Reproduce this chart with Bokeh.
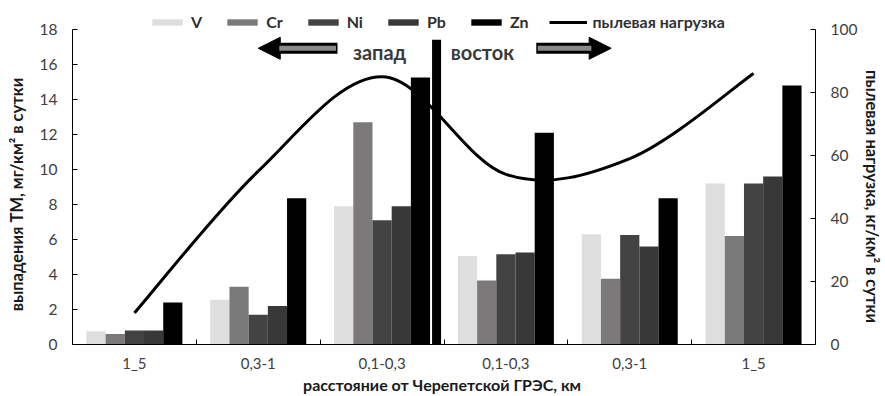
from bokeh.plotting import figure
from bokeh.models import (Range1d, LinearAxis, FixedTicker, Legend, LegendItem,
                          ColumnDataSource, Label, Arrow, NormalHead)
from bokeh.embed import file_html
from bokeh.resources import INLINE

# ---------------- data ----------------
categories = ["1_5", "0,3-1", "0,1-0,3", "0,1-0,3", "0,3-1", "1_5"]
series_names = ["V", "Cr", "Ni", "Pb", "Zn"]
V = [0.75, 2.55, 7.9, 5.05, 6.3, 9.2]
Cr = [0.6, 3.3, 12.7, 3.65, 3.75, 6.2]
Ni = [0.8, 1.7, 7.1, 5.15, 6.25, 9.2]
Pb = [0.8, 2.2, 7.9, 5.25, 5.6, 9.6]
Zn = [2.4, 8.35, 15.25, 12.1, 8.35, 14.8]
dust = [10, 55, 85, 54, 59, 86]
left_ticks = [0, 2, 4, 6, 8, 10, 12, 14, 16, 18]
right_ticks = [0, 20, 40, 60, 80, 100]

colors = ["#dedede", "#7b7979", "#434343", "#383838", "#000000"]
FONT = "Lato"
NB = "\u00a0"

# axes end at 18 / 100; the frame reaches a bit higher to hold the legend
LMAX, RMAX = 18, 100
headroom = 1.42 / 18.0
p = figure(width=885, height=396, output_backend="svg", toolbar_location=None,
           x_range=Range1d(0, 6), y_range=Range1d(0, LMAX * (1 + headroom)),
           min_border_left=72, min_border_right=68, min_border_top=4, min_border_bottom=50)
p.extra_y_ranges = {"right": Range1d(0, RMAX * (1 + headroom))}
p.outline_line_color = None
p.xgrid.visible = False
p.ygrid.visible = False

# ---------------- bars ----------------
n = len(categories)
centers = [i + 0.5 for i in range(n)]
bw = 0.155
legend_items = []
for k, (name, vals) in enumerate(zip(series_names, [V, Cr, Ni, Pb, Zn])):
    xs = [c + (k - 2) * bw for c in centers]
    src = ColumnDataSource(dict(x=xs, top=vals))
    r = p.vbar(x="x", top="top", width=bw, source=src, fill_color=colors[k],
               line_color=None)
    legend_items.append(LegendItem(label=name, renderers=[r]))

# ---------------- smoothed dust line (Bezier segments through data points) ----
xs = centers
ys = dust
x0, y0, x1, y1, cx0, cy0, cx1, cy1 = [], [], [], [], [], [], [], []
for i in range(n - 1):
    xm1, ym1 = (xs[i - 1], ys[i - 1]) if i > 0 else (xs[i], ys[i])
    xp2, yp2 = (xs[i + 2], ys[i + 2]) if i + 2 < n else (xs[i + 1], ys[i + 1])
    x0.append(xs[i]); y0.append(ys[i])
    x1.append(xs[i + 1]); y1.append(ys[i + 1])
    cx0.append(xs[i] + (xs[i + 1] - xm1) / 6.0)
    cy0.append(ys[i] + (ys[i + 1] - ym1) / 6.0)
    cx1.append(xs[i + 1] - (xp2 - xs[i]) / 6.0)
    cy1.append(ys[i + 1] - (yp2 - ys[i]) / 6.0)
bsrc = ColumnDataSource(dict(x0=x0, y0=y0, x1=x1, y1=y1, cx0=cx0, cy0=cy0, cx1=cx1, cy1=cy1))
lr = p.bezier(x0="x0", y0="y0", x1="x1", y1="y1", cx0="cx0", cy0="cy0", cx1="cx1", cy1="cy1",
              source=bsrc, line_color="black", line_width=3, y_range_name="right")
legend_items.append(LegendItem(label="пылевая нагрузка", renderers=[lr]))

# ---------------- divider west / east ----------------
p.segment(x0=[2.94], y0=[0], x1=[2.94], y1=[17.4], line_color="black", line_width=9)

# arrows
for tail, tip, inner_end in [(2.14, 1.50, 1.67), (3.745, 4.35, 4.19)]:
    p.add_layout(Arrow(x_start=tail, y_start=16.92, x_end=tip, y_end=16.92,
                       line_color="black", line_width=11,
                       end=NormalHead(size=22, fill_color="black", line_color="black")))
    p.add_layout(Arrow(x_start=tail + (0.012 if tip > tail else -0.012), y_start=16.92,
                       x_end=inner_end, y_end=16.92,
                       line_color="#8a8a8a", line_width=5, end=None))

for txt, xx in [("запад", 2.48), ("восток", 3.31)]:
    p.add_layout(Label(x=xx, y=16.7, text=txt, text_align="center", text_baseline="middle",
                       text_font=FONT, text_font_size="20px", text_font_style="bold",
                       text_color="#3a3a3a"))

# ---------------- axes ----------------
yax = p.yaxis[0]
yax.ticker = FixedTicker(ticks=left_ticks)
yax.bounds = (0, LMAX)
yax.axis_label = "выпадения ТМ,  мг/км² в сутки" + NB * 9
ryax = LinearAxis(y_range_name="right", ticker=FixedTicker(ticks=right_ticks),
                  bounds=(0, RMAX), axis_label=NB * 12 + "пылевая нагрузка,  кг/км² в сутки")
p.add_layout(ryax, "right")

xax = p.xaxis[0]
xax.ticker = FixedTicker(ticks=centers, minor_ticks=[1, 2, 3, 4, 5])
xax.major_label_overrides = {c: lab for c, lab in zip(centers, categories)}
xax.axis_label = "расстояние  от Черепетской ГРЭС, км"
xax.major_tick_line_color = None
xax.minor_tick_in = 5
xax.minor_tick_out = 0
xax.minor_tick_line_color = "black"

for ax in [yax, ryax, xax]:
    ax.axis_line_color = "black"
    ax.major_label_text_font = FONT
    ax.major_label_text_font_size = "15.5px"
    ax.major_label_text_color = "#404040"
    ax.axis_label_text_font = FONT
    ax.axis_label_text_font_size = "16.5px"
    ax.axis_label_text_font_style = "bold"
    ax.axis_label_text_color = "#1a1a1a"
for ax in [yax, ryax]:
    ax.major_tick_in = 5
    ax.major_tick_out = 0
    ax.major_tick_line_color = "black"
    ax.minor_tick_line_color = None
yax.major_label_standoff = 15
yax.axis_label_standoff = 10
ryax.major_label_standoff = 15
ryax.axis_label_standoff = 2
xax.major_label_standoff = 3
xax.axis_label_standoff = 0
xax.major_label_text_font_size = "15px"
xax.axis_label_text_font_size = "16px"

# ---------------- legend ----------------
legend = Legend(items=legend_items, orientation="horizontal", location=(76, 313),
                glyph_width=38, glyph_height=8, label_standoff=5, spacing=21,
                label_width=0, padding=2, margin=0, border_line_color=None,
                background_fill_alpha=0,
                label_text_font=FONT, label_text_font_size="16px",
                label_text_font_style="bold", label_text_color="#303030")
p.add_layout(legend, "center")

open("out.html", "w").write(file_html(p, INLINE))
